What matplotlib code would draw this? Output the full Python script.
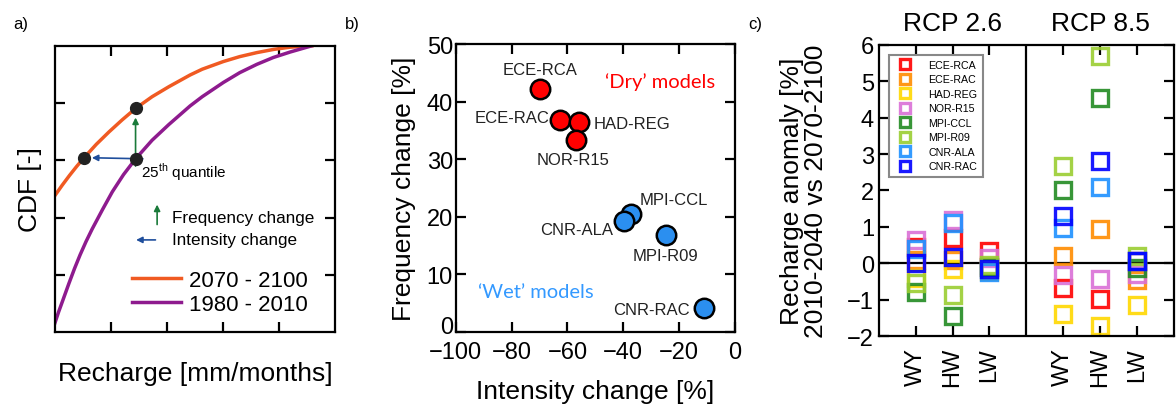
import matplotlib
matplotlib.use("Agg")
import matplotlib.pyplot as plt
import matplotlib.transforms as mtransforms
import numpy as np

plt.rcParams['font.family'] = ['Liberation Sans', 'DejaVu Sans']
plt.rcParams['mathtext.fontset'] = 'custom'
plt.rcParams['mathtext.rm'] = 'Liberation Sans'
plt.rcParams['axes.linewidth'] = 1.6

# ---- panel a: schematic CDF curves (axes 0-1)
future_x = [0.0, 0.026, 0.052, 0.078, 0.104, 0.148, 0.193, 0.24, 0.288, 0.347, 0.407,
            0.483, 0.526, 0.602, 0.66, 0.721, 0.78, 0.84, 0.918]
future_y = [0.477, 0.513, 0.547, 0.579, 0.609, 0.656, 0.699, 0.741, 0.781, 0.822, 0.857,
            0.898, 0.918, 0.945, 0.962, 0.976, 0.987, 0.995, 1.0]
past_x = [0.0, 0.013, 0.026, 0.05, 0.07, 0.09, 0.111, 0.133, 0.17, 0.205, 0.245, 0.288,
          0.347, 0.407, 0.483, 0.526, 0.602, 0.66, 0.721, 0.78, 0.84, 0.918]
past_y = [0.032, 0.07, 0.105, 0.17, 0.222, 0.27, 0.316, 0.36, 0.428, 0.49, 0.55, 0.605,
          0.67, 0.725, 0.79, 0.822, 0.872, 0.906, 0.935, 0.959, 0.978, 1.0]
q25_past = (0.288, 0.605)
q25_freq = (0.288, 0.781)
q25_int = (0.104, 0.609)

# ---- panel b: intensity vs frequency change
models_b = ['ECE-RCA', 'ECE-RAC', 'HAD-REG', 'NOR-R15',
            'MPI-CCL', 'CNR-ALA', 'MPI-R09', 'CNR-RAC']
intensity = [-69.8, -62.6, -55.7, -56.9, -37.4, -39.7, -24.8, -11.1]
frequency = [42.2, 36.8, 36.5, 33.4, 20.5, 19.2, 16.8, 4.1]
dry = [True, True, True, True, False, False, False, False]

# ---- panel c: recharge anomaly per model, WY/HW/LW for RCP 2.6 and 8.5
models_c = ['ECE-RCA', 'ECE-RAC', 'HAD-REG', 'NOR-R15',
            'MPI-CCL', 'MPI-R09', 'CNR-ALA', 'CNR-RAC']
colors_c = ['#ff0000', '#ff8c00', '#ffd700', '#da70d6',
            '#228b22', '#9acd32', '#1e90ff', '#0000ff']
seasons = ['WY', 'HW', 'LW']
rcp26 = {
    'ECE-RCA': [0.45, 0.7, 0.35],
    'ECE-RAC': [0.1, 0.1, -0.1],
    'HAD-REG': [-0.4, -0.15, -0.2],
    'NOR-R15': [0.65, 1.2, 0.15],
    'MPI-CCL': [-0.78, -1.45, -0.1],
    'MPI-R09': [-0.55, -0.88, -0.05],
    'CNR-ALA': [0.4, 1.1, -0.25],
    'CNR-RAC': [0.0, 0.18, -0.15],
}
rcp85 = {
    'ECE-RCA': [-0.67, -0.98, 0.05],
    'ECE-RAC': [0.2, 0.95, -0.45],
    'HAD-REG': [-1.4, -1.72, -1.14],
    'NOR-R15': [-0.33, -0.44, -0.3],
    'MPI-CCL': [2.0, 4.55, -0.12],
    'MPI-R09': [2.67, 5.7, 0.2],
    'CNR-ALA': [0.98, 2.09, 0.05],
    'CNR-RAC': [1.3, 2.82, 0.06],
}
x26 = [1, 2, 3]
x85 = [5, 6, 7]

fig = plt.figure(figsize=(11.76, 4.10), dpi=100)
ax_a = fig.add_axes([0.0467, 0.1875, 0.2381, 0.6985])
ax_b = fig.add_axes([0.3875, 0.1885, 0.2375, 0.7015])
ax_c = fig.add_axes([0.7474, 0.178, 0.2506, 0.710])

for ax in (ax_a, ax_b, ax_c):
    ax.tick_params(direction='in', top=True, right=True, length=7, width=1.6,
                   labelsize=17)

# panel a
ax_a.plot(future_x, future_y, color='#f05a22', lw=2.5, label='2070 - 2100',
          solid_joinstyle='round')
ax_a.plot(past_x, past_y, color='#8e1b8e', lw=2.5, label='1980 - 2010',
          solid_joinstyle='round')
ax_a.annotate('', xy=(q25_freq[0], q25_freq[1] - 0.022), xytext=(q25_past[0], q25_past[1] - 0.035),
              arrowprops=dict(arrowstyle='-|>', color='#1a7a3a', lw=1.2, mutation_scale=9))
ax_a.annotate('', xy=(q25_int[0] + 0.018, q25_int[1]), xytext=(q25_past[0] + 0.036, q25_past[1]),
              arrowprops=dict(arrowstyle='-|>', color='#1f4e9c', lw=1.2, mutation_scale=9))
ax_a.plot([q25_int[0], q25_past[0], q25_freq[0]], [q25_int[1], q25_past[1], q25_freq[1]],
          'o', color='#222222', ms=8.5, zorder=5)
ax_a.text(0.306, 0.562, r'25$^{\mathrm{th}}$ quantile', fontsize=11, va='center')
ax_a.annotate('', xy=(0.365, 0.455), xytext=(0.365, 0.366),
              arrowprops=dict(arrowstyle='-|>', color='#1a7a3a', lw=1.2, mutation_scale=9))
ax_a.annotate('', xy=(0.28, 0.322), xytext=(0.369, 0.322),
              arrowprops=dict(arrowstyle='-|>', color='#1f4e9c', lw=1.2, mutation_scale=9))
ax_a.text(0.417, 0.399, 'Frequency change', fontsize=12.3, va='center')
ax_a.text(0.417, 0.322, 'Intensity change', fontsize=12.3, va='center')
ax_a.legend(loc='lower right', frameon=False, fontsize=16, handlelength=2.2,
            handletextpad=0.4, labelspacing=0.15, borderaxespad=0.3,
            bbox_to_anchor=(0.96, 0.005))
ax_a.set_xlim(0, 1)
ax_a.set_ylim(0, 1)
ax_a.set_xticks([0.2, 0.4, 0.6, 0.8])
ax_a.set_yticks([0.2, 0.4, 0.6, 0.8])
ax_a.set_xticklabels([])
ax_a.set_yticklabels([])
ax_a.set_xlabel('Recharge [mm/months]', fontsize=19, labelpad=17)
ax_a.set_ylabel('CDF [-]', fontsize=19, labelpad=6)

# panel b
offsets = {
    'ECE-RCA': ((0, 14), 'center'),
    'ECE-RAC': ((-7.5, 1.7), 'right'),
    'HAD-REG': ((10, -1), 'left'),
    'NOR-R15': ((-2.4, -14), 'center'),
    'MPI-CCL': ((6.7, 10), 'left'),
    'CNR-ALA': ((-8, -6.2), 'right'),
    'MPI-R09': ((0, -15), 'center'),
    'CNR-RAC': ((-10.5, -0.7), 'right'),
}
for name, xi, yi, d in zip(models_b, intensity, frequency, dry):
    col = '#ff0000' if d else '#2b8ff0'
    ax_b.plot(xi, yi, 'o', ms=14, mfc=col, mec='black', mew=1.8, zorder=3)
    off, ha = offsets[name]
    ax_b.annotate(name, (xi, yi), xytext=off, textcoords='offset points',
                  ha=ha, va='center', fontsize=12, color='#222222')
ax_b.text(-46.5, 43.5, '\u2018Dry\u2019 models', color='#ff0000', fontsize=14.5,
          family=['Lato', 'DejaVu Sans'], va='center')
ax_b.text(-92, 7.0, '\u2018Wet\u2019 models', color='#3399ff', fontsize=14.5,
          family=['Lato', 'DejaVu Sans'], va='center')
ax_b.set_xlim(-100, 0)
ax_b.set_ylim(0, 50)
ax_b.set_xticks(np.arange(-100, 1, 20))
ax_b.set_yticks(np.arange(0, 51, 10))
ax_b.tick_params(axis='y', pad=2)
ax_b.tick_params(axis='x', pad=7)
ax_b.set_xlabel('Intensity change [%]', fontsize=19, labelpad=11)
ax_b.set_ylabel('Frequency change [%]', fontsize=19, labelpad=8)
# nudge the "0" y label up a little so it clears the "-100" x label
zero_lab = ax_b.yaxis.get_majorticklabels()[0]
zero_lab.set_transform(zero_lab.get_transform() +
                       mtransforms.ScaledTranslation(0, 5 / 72, fig.dpi_scale_trans))

# panel c
for name, col in zip(models_c, colors_c):
    ax_c.plot(x26, rcp26[name], 's', ms=12, mfc='none', mec=col, mew=2.4,
              alpha=0.9, label=name)
    ax_c.plot(x85, rcp85[name], 's', ms=12, mfc='none', mec=col, mew=2.4,
              alpha=0.9)
ax_c.axhline(0, color='black', lw=1.6, zorder=0)
ax_c.axvline(4, color='black', lw=1.6, zorder=0)
ax_c.set_xlim(0, 8)
ax_c.set_ylim(-2, 6)
ax_c.set_yticks(np.arange(-2, 7, 1))
ax_c.set_xticks(x26 + x85)
ax_c.set_xticklabels(seasons + seasons, rotation=90)
ax_c.tick_params(axis='x', labelsize=17, pad=8)
ax_c.text(2, 1.035, 'RCP 2.6', transform=ax_c.get_xaxis_transform(),
          ha='center', va='bottom', fontsize=19)
ax_c.text(6, 1.035, 'RCP 8.5', transform=ax_c.get_xaxis_transform(),
          ha='center', va='bottom', fontsize=19)
ax_c.set_ylabel('Recharge anomaly [%]\n2010-2040 vs 2070-2100', fontsize=19,
                labelpad=14, linespacing=1.0)
leg = ax_c.legend(loc='upper left', fontsize=7.7, markerscale=0.55,
                  handletextpad=1.2, labelspacing=0.42, borderpad=0.5,
                  fancybox=False, edgecolor='#888888', framealpha=1,
                  bbox_to_anchor=(0.015, 0.985))
leg.get_frame().set_linewidth(1.5)

# panel letters
fig.text(0.011, 0.94, 'a)', fontsize=12, va='center')
fig.text(0.293, 0.94, 'b)', fontsize=12, va='center')
fig.text(0.636, 0.94, 'c)', fontsize=12, va='center')

plt.savefig('out.png', dpi=100)
